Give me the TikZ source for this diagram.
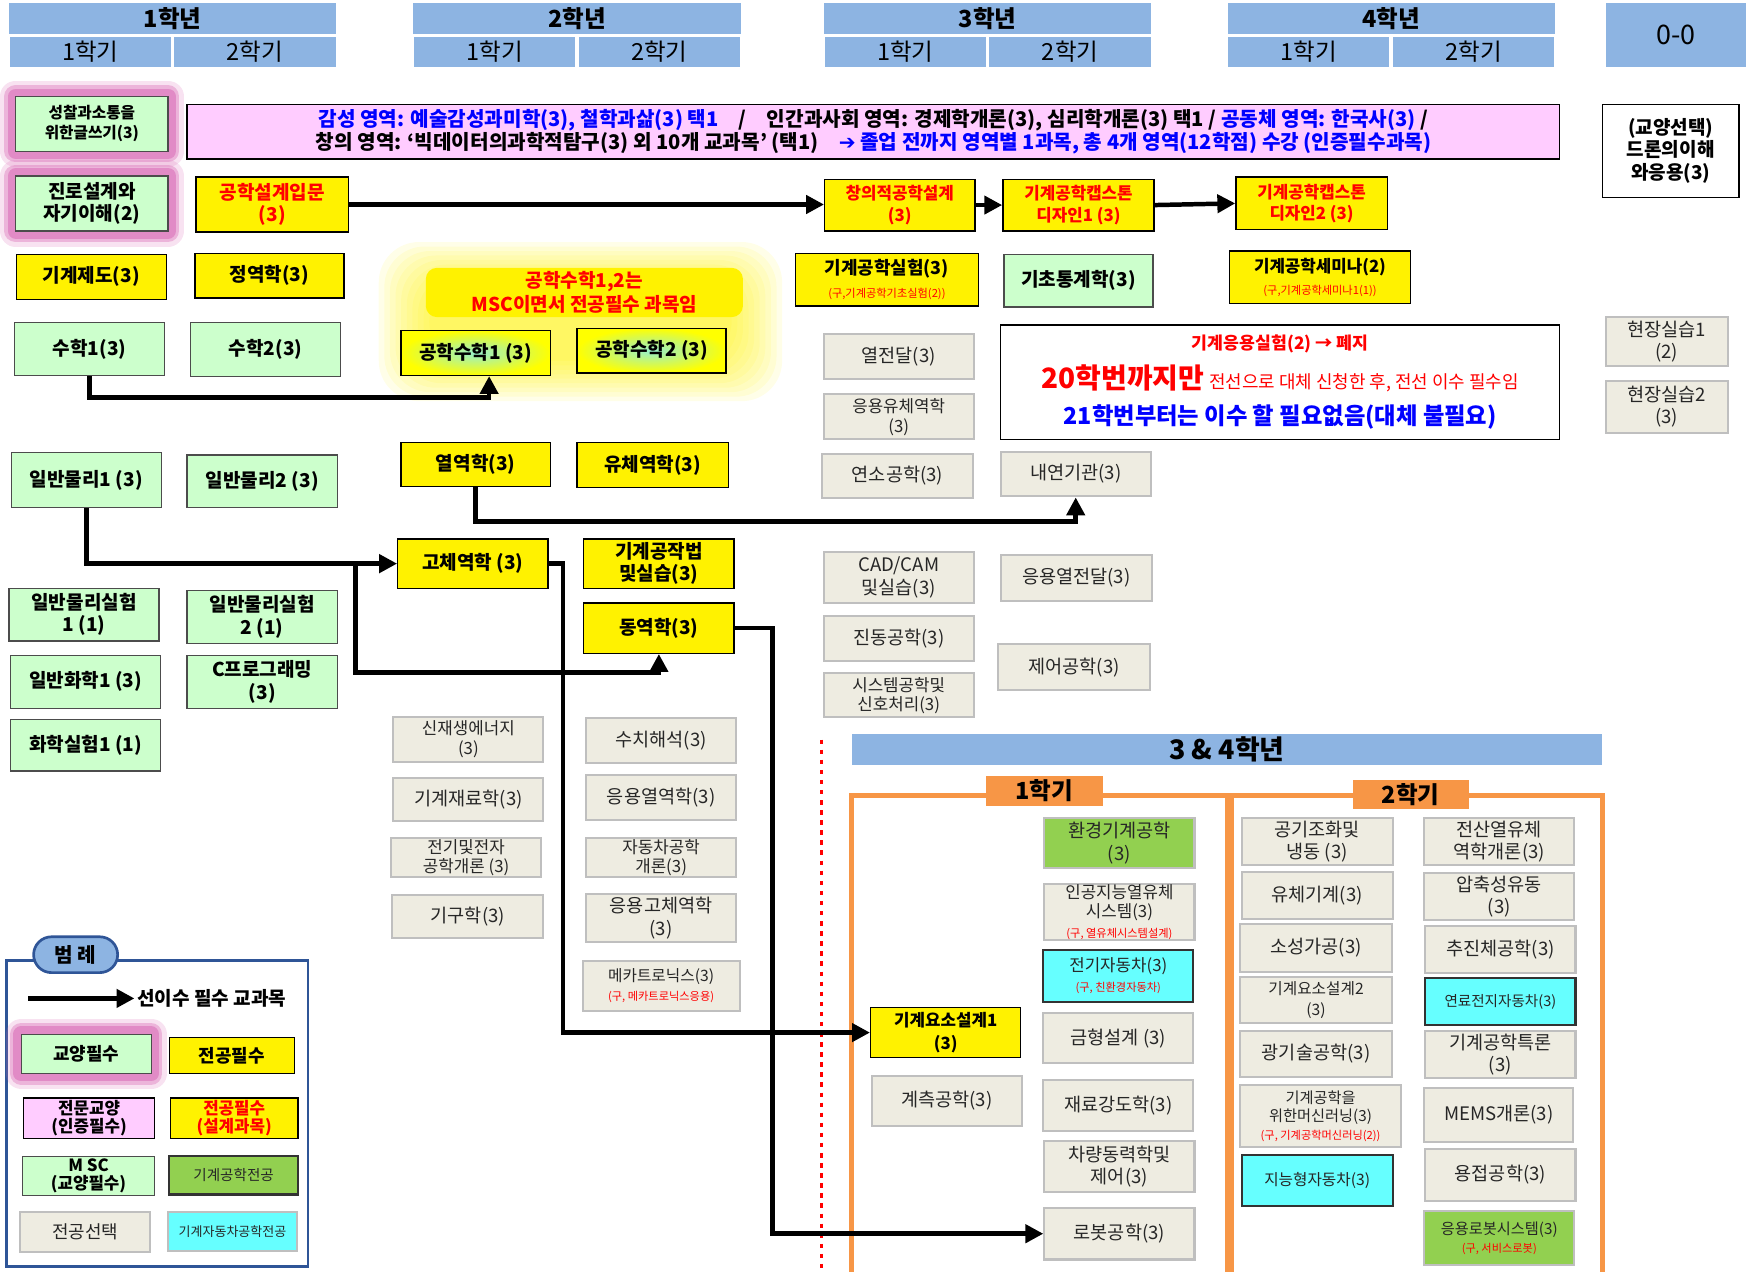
\documentclass[tikz,border=0pt]{standalone}
\usepackage{fontspec}
\setmainfont{Noto Sans CJK KR}
\newfontfamily\symfont{DejaVu Sans}
\usepackage{tikz}
\usetikzlibrary{arrows.meta, positioning, backgrounds, calc}

\definecolor{hdrblue}{RGB}{141,180,226}
\definecolor{legblue}{RGB}{47,85,151}
\definecolor{libgreen}{RGB}{204,255,204}
\definecolor{pinkbox}{RGB}{255,204,255}
\definecolor{beige}{RGB}{238,236,225}
\definecolor{mechgreen}{RGB}{146,208,80}
\definecolor{carcyan}{RGB}{102,255,255}
\definecolor{taborange}{RGB}{247,150,70}
\definecolor{glowpink}{RGB}{218,112,184}
\definecolor{mint}{RGB}{150,240,205}

\newcommand{\oldname}[1]{{\color{red}\mdseries\fontsize{5}{6}\selectfont #1}}
\newcommand{\fsz}[1]{\fontsize{#1}{#1}\selectfont}

\begin{document}
\begin{tikzpicture}[x=0.5pt, y=-0.5pt,
    course/.style={draw, align=center, inner sep=0.5pt, minimum width=67pt, minimum height=22pt,
        line width=0.6pt, font=\bfseries\fontsize{8.5}{10}\selectfont},
    major/.style={course, fill=yellow},
    design/.style={major, text=red},
    msc/.style={major, shade, inner color=mint, outer color=yellow},
    liberal/.style={course, fill=libgreen, draw=black!70},
    glow/.style={preaction={draw=glowpink, line width=14pt, opacity=0.2, line join=round},
        preaction={draw=glowpink, line width=10pt, opacity=0.4, line join=round},
        preaction={draw=glowpink, line width=7pt, opacity=0.6, line join=round}},
    must/.style={liberal, glow},
    elective/.style={course, fill=beige, draw=black!25, line width=0.9pt, text=black!85,
        font=\mdseries\fontsize{8.3}{10}\selectfont},
    mech/.style={elective, fill=mechgreen, draw=black!25},
    carmajor/.style={elective, fill=carcyan, draw=black!80},
    hdr/.style={fill=hdrblue, inner sep=0pt, minimum height=13.5pt, font=\fontsize{10.5}{12}\selectfont},
    tab/.style={fill=taborange, inner sep=0pt, minimum width=52pt, minimum height=13.5pt,
        font=\bfseries\fontsize{10.5}{12}\selectfont},
    frame/.style={draw=taborange, line width=2pt},
    arr/.style={line width=2pt, -{Triangle[length=8pt,width=8pt]}}]

\useasboundingbox (0,0) rectangle (1568,1135);

% header
\foreach \n/\cx in {1/154, 2/515, 3/881.5, 4/1241.5} {
    \node[hdr, minimum width=146pt, font=\bfseries\fontsize{10.5}{12}\selectfont] (year\n) at (\cx,16.5) {\n{}학년};
    \node[hdr, minimum width=72pt] (sem\n a) at (\cx-73.5,46.5) {1학기};
    \node[hdr, minimum width=72pt] (sem\n b) at (\cx+73.5,46.5) {2학기};
}
\node[hdr, minimum width=62.5pt, minimum height=28.5pt, font=\fontsize{12}{14}\selectfont] (zero) at (1495.5,31.5) {0-0};

% glow behind the engineering maths note
\begin{scope}[on background layer]
    \foreach \i in {0,...,9}
        \fill[yellow, opacity=0.09, rounded corners=18pt] (338+5*\i,216+4*\i) rectangle (698-5*\i,358-4*\i);
\end{scope}

% 1st year
\node[must, minimum width=68pt, minimum height=24.5pt, font=\bfseries\fontsize{7}{9}\selectfont] (writing) at (82,110.5) {성찰과소통을\\위한글쓰기(3)};
\node[must, minimum width=68pt, minimum height=24.5pt] (career) at (82,181.5) {진로설계와\\자기이해(2)};
\node[major, minimum height=20pt] (drafting) at (81.5,247) {기계제도(3)};
\node[liberal, minimum height=23.5pt] (math1) at (80,311.5) {수학1(3)};
\node[liberal, minimum height=24.5pt] (phys1) at (77,428.5) {일반물리1 (3)};
\node[liberal, minimum height=23.5pt] (physlab1) at (75,548.5) {일반물리실험\\1 (1)};
\node[liberal, minimum height=23.5pt] (chem1) at (76.5,608.5) {일반화학1 (3)};
\node[liberal, minimum height=23pt] (chemlab1) at (76.5,665) {화학실험1 (1)};

\node[design, minimum width=68pt, minimum height=24.5pt] (intro) at (243,182.5) {공학설계입문\\(3)};
\node[major, minimum width=66.5pt, minimum height=20pt] (statics) at (240.5,246) {정역학(3)};
\node[liberal, minimum height=24pt] (math2) at (237,312) {수학2(3)};
\node[liberal, minimum height=23.5pt] (phys2) at (234,429.5) {일반물리2 (3)};
\node[liberal, minimum height=23.5pt] (physlab2) at (234,550.5) {일반물리실험\\2 (1)};
\node[liberal, minimum height=23.5pt] (cprog) at (234,608.5) {C프로그래밍\\(3)};

% general education areas
\node[course, fill=pinkbox, minimum width=612.5pt, minimum height=24.5pt, font=\bfseries\fontsize{9}{10.5}\selectfont] (areas) at (779.5,117.5)
    {\textcolor{blue}{감성 영역: 예술감성과미학(3), 철학과삶(3) 택1}\quad /\quad 인간과사회 영역: 경제학개론(3), 심리학개론(3) 택1 / \textcolor{blue}{공동체 영역: 한국사(3)} /\\
     창의 영역: ‘빅데이터의과학적탐구(3) 외 10개 교과목’ (택1)\quad \textcolor{blue}{{\symfont\bfseries ➔} 졸업 전까지 영역별 1과목, 총 4개 영역(12학점) 수강 (인증필수과목)}};
\node[course, fill=white, draw=black, minimum width=61pt, minimum height=41.5pt] (drone) at (1491,134.5) {(교양선택)\\드론의이해\\와응용(3)};

% 2nd year
\node[rounded corners=5pt, fill=yellow, text=red, align=center, minimum width=141.5pt, minimum height=22pt, inner sep=0pt,
    font=\bfseries\fontsize{8.5}{10.5}\selectfont] (mscnote) at (521.5,261) {공학수학1,2는\\MSC이면서 전공필수 과목임};
\node[msc, minimum width=66.5pt, minimum height=20pt] (emath1) at (424.5,315) {공학수학1 (3)};
\node[msc, minimum width=66.5pt, minimum height=20pt] (emath2) at (581.5,313) {공학수학2 (3)};
\node[major, minimum width=66.5pt, minimum height=19.5pt] (thermo) at (424.5,414.5) {열역학(3)};
\node[major, minimum width=67.5pt, minimum height=20pt] (fluid) at (582.5,415) {유체역학(3)};
\node[major] (solid) at (422,503) {고체역학 (3)};
\node[major] (machining) at (588,503) {기계공작법\\및실습(3)};
\node[major, minimum height=22.5pt] (dynamics) at (588,560.5) {동역학(3)};
\node[elective, minimum height=20pt, font=\mdseries\fontsize{7.5}{9}\selectfont] (renew) at (418,660) {신재생에너지\\(3)};
\node[elective, minimum height=20pt] (numeric) at (590,661) {수치해석(3)};
\node[elective, minimum height=19.5pt] (materials) at (418,713.5) {기계재료학(3)};
\node[elective, minimum height=20pt] (appthermo) at (590,712) {응용열역학(3)};
\node[elective, minimum height=17.5pt, font=\mdseries\fontsize{7.5}{8.5}\selectfont] (elec) at (416,765.5) {전기및전자\\공학개론 (3)};
\node[elective, minimum height=17.5pt, font=\mdseries\fontsize{7.5}{8.5}\selectfont] (autointro) at (590,765.5) {자동차공학\\개론(3)};
\node[elective, minimum width=67.5pt, minimum height=19pt] (kinem) at (417.5,818) {기구학(3)};
\node[elective, minimum height=21.5pt] (appsolid) at (590,819.5) {응용고체역학\\(3)};
\node[elective, minimum width=70pt, minimum height=22pt, font=\mdseries\fontsize{7}{8.5}\selectfont] (mecha) at (590,880) {메카트로닉스(3)\\\oldname{(구, 메카트로닉스응용)}};

% 3rd year
\node[design, minimum height=23pt, font=\bfseries\fontsize{7.5}{9.5}\selectfont] (creative) at (803,183) {창의적공학설계\\(3)};
\node[major, minimum width=81.5pt, minimum height=23.5pt, font=\bfseries\fontsize{8}{10}\selectfont] (mechlab) at (791.5,249.5) {기계공학실험(3)\\\oldname{(구,기계공학기초실험(2))}};
\node[elective, minimum height=20pt] (heat) at (802,318) {열전달(3)};
\node[elective, minimum height=20pt, font=\mdseries\fontsize{7.5}{9}\selectfont] (appfluid) at (802,372) {응용유체역학\\(3)};
\node[elective, minimum height=19.5pt] (combust) at (801,424.5) {연소공학(3)};
\node[elective, minimum height=22.5pt] (cadcam) at (802,515.5) {CAD/CAM\\및실습(3)};
\node[elective, minimum height=20pt] (vib) at (802,570) {진동공학(3)};
\node[elective, minimum height=19.5pt, font=\mdseries\fontsize{7.5}{8.5}\selectfont] (signal) at (802,620.5) {시스템공학및\\신호처리(3)};

\node[design, minimum width=67.5pt, minimum height=23pt, font=\bfseries\fontsize{7.5}{9.5}\selectfont] (cap1) at (962.5,183) {기계공학캡스톤\\디자인1 (3)};
\node[liberal, minimum width=66.5pt, minimum height=23.5pt] (stat) at (962.5,250.5) {기초통계학(3)};
\node[elective, minimum height=20pt] (ice) at (960,423) {내연기관(3)};
\node[elective, minimum width=67.5pt, minimum height=20.5pt] (appheat) at (960.5,515.5) {응용열전달(3)};
\node[elective, minimum width=67.5pt, minimum height=20.5pt] (control) at (958.5,595.5) {제어공학(3)};

% 4th year
\node[design, minimum width=67.5pt, minimum height=23.5pt, font=\bfseries\fontsize{7.5}{9.5}\selectfont] (cap2) at (1170.5,181.5) {기계공학캡스톤\\디자인2 (3)};
\node[major, minimum width=81pt, minimum height=23.5pt, font=\bfseries\fontsize{7.5}{9.5}\selectfont] (seminar) at (1178,247.5) {기계공학세미나(2)\\\oldname{(구,기계공학세미나1(1))}};
\node[draw, fill=white, line width=0.6pt, align=center, minimum width=249.5pt, minimum height=51pt] (notice) at (1142.5,341)
    {\textcolor{red}{\bfseries\fsz{7.7}기계응용실험(2) → 폐지}\\[4pt]
     \textcolor{red}{{\bfseries\fsz{12.5}20학번까지만}\ \fsz{8}전선으로 대체 신청한 후, 전선 이수 필수임}\\[4pt]
     \textcolor{blue}{\bfseries\fsz{10.4}21학번부터는 이수 할 필요없음(대체 불필요)}};
\node[elective, minimum width=54.5pt, minimum height=22pt] (field1) at (1487.5,305) {현장실습1\\(2)};
\node[elective, minimum width=54.5pt, minimum height=23pt] (field2) at (1487.5,363) {현장실습2\\(3)};

% 3 & 4th year electives
\node[hdr, minimum width=335pt, minimum height=14pt, font=\bfseries\fontsize{12}{14}\selectfont] (upper) at (1095,669) {3 \& 4학년};
\draw[red, line width=1.5pt, dash pattern=on 2pt off 2.5pt] (733,660) -- (733,1135);
\draw[frame] (760,1135) |- (1095,710) -- (1095,1135);
\draw[frame] (1099,1135) |- (1430,710) -- (1430,1135);
\node[tab] (tab1) at (932,706) {1학기};
\node[tab, minimum height=13pt] (tab2) at (1259,709) {2학기};

\node[mech, minimum height=22.5pt] (envmech) at (999,752.5) {환경기계공학\\(3)};
\node[elective, minimum height=24pt, font=\mdseries\fontsize{7.5}{8.5}\selectfont] (aifluid) at (999,814) {인공지능열유체\\시스템(3)\\\oldname{(구, 열유체시스템설계)}};
\node[carmajor, minimum height=23pt, font=\mdseries\fontsize{7.5}{9}\selectfont] (ev) at (998,871) {전기자동차(3)\\\oldname{(구, 친환경자동차)}};
\node[major, minimum height=22.5pt, draw=black, font=\bfseries\fontsize{7.5}{10}\selectfont] (elem1) at (844,921.5) {기계요소설계1\\(3)};
\node[elective, minimum height=22.5pt] (mold) at (998,926.5) {금형설계 (3)};
\node[elective, minimum height=22.5pt] (measure) at (845,982.5) {계측공학(3)};
\node[elective, minimum height=22.5pt] (strength) at (998,986.5) {재료강도학(3)};
\node[elective, minimum height=23pt] (vehicle) at (999,1041) {차량동력학및\\제어(3)};
\node[elective, minimum height=23pt] (robot) at (999,1101) {로봇공학(3)};

\node[elective, minimum width=67.5pt, minimum height=21pt] (hvac) at (1175.5,751) {공기조화및\\냉동 (3)};
\node[elective, minimum height=21pt] (cfd) at (1338,751) {전산열유체\\역학개론(3)};
\node[elective, minimum width=67.5pt, minimum height=21pt] (turbo) at (1175.5,799) {유체기계(3)};
\node[elective, minimum height=21pt] (compress) at (1338,800) {압축성유동\\(3)};
\node[elective, minimum width=67.5pt, minimum height=21pt] (forming) at (1174.5,846) {소성가공(3)};
\node[elective, minimum height=21pt] (propul) at (1339,847) {추진체공학(3)};
\node[elective, minimum width=67.5pt, minimum height=20.5pt, font=\mdseries\fontsize{7}{9}\selectfont] (elem2) at (1174.5,892.5) {기계요소설계2\\(3)};
\node[carmajor, minimum height=21pt, font=\mdseries\fontsize{6.5}{8}\selectfont] (fuelcell) at (1339,894) {연료전지자동차(3)};
\node[elective, minimum width=67.5pt, minimum height=20.5pt] (optics) at (1174.5,940.5) {광기술공학(3)};
\node[elective, minimum height=21pt] (special) at (1339,941) {기계공학특론\\(3)};
\node[elective, minimum width=71.5pt, minimum height=28pt, font=\mdseries\fontsize{6.8}{8}\selectfont] (ml) at (1178.5,996) {기계공학을\\위한머신러닝(3)\\\oldname{(구, 기계공학머신러닝(2))}};
\node[elective, minimum width=66.5pt, minimum height=24pt] (mems) at (1337.5,995) {MEMS개론(3)};
\node[carmajor, minimum width=67.5pt, minimum height=22.5pt, font=\mdseries\fontsize{7}{8}\selectfont] (smartcar) at (1175.5,1053.5) {지능형자동차(3)};
\node[elective, minimum height=23.5pt] (welding) at (1339,1048.5) {용접공학(3)};
\node[mech, minimum height=24pt, font=\mdseries\fontsize{6.8}{8}\selectfont] (approbot) at (1338,1105) {응용로봇시스템(3)\\\oldname{(구, 서비스로봇)}};

% prerequisites
\draw[arr] (intro.east) -- (intro.east -| creative.west);
\draw[arr] (creative.east) -- (creative.east -| cap1.west);
\draw[arr] (cap1.east) -- (cap2.west);
\draw[arr] (math1.south) -- ++(0,19) -| ([xshift=6pt]emath1.south);
\draw[arr] (thermo.south) -- ++(0,31) -| (ice.south);
\draw[arr] (phys1.south) |- (solid.west);
\path (solid.west) ++(-37,0) coordinate (split);
\draw[arr] (split) -- ++(0,97) -| (dynamics.south);
\draw[arr] (solid.east) -- ++(13,0) |- (elem1.west);
\draw[arr] (dynamics.east) -- ++(34,0) |- (robot.west);

% legend
\draw[legblue, line width=1.2pt] (6,857) rectangle (275,1130);
\node[draw=legblue, fill=hdrblue, line width=1.2pt, rounded corners=8pt, minimum width=37.5pt, minimum height=16pt,
    inner sep=0pt, font=\bfseries\fontsize{9}{10}\selectfont] (legtitle) at (67.5,852) {범 례};
\coordinate (legfrom) at (25,891);
\coordinate (legto) at (120,891);
\draw[arr] (legfrom) -- (legto);
\node[right=0pt of legto, inner sep=1pt, font=\bfseries\fontsize{8.5}{10}\selectfont] (legarrow) {선이수 필수 교과목};
\node[must, minimum width=58pt, minimum height=17.5pt, font=\bfseries\fontsize{8}{9}\selectfont] (leg1) at (77,940.5) {교양필수};
\node[major, minimum width=56pt, minimum height=16pt, font=\bfseries\fontsize{8}{9}\selectfont] (leg2) at (207,942) {전공필수};
\node[course, fill=pinkbox, draw=black, minimum width=58.5pt, minimum height=18pt, font=\bfseries\fontsize{7.5}{8}\selectfont] (leg3) at (79.5,998) {전문교양\\(인증필수)};
\node[design, minimum width=57pt, minimum height=18pt, font=\bfseries\fontsize{7.5}{8}\selectfont] (leg4) at (209,998) {전공필수\\(설계과목)};
\node[liberal, minimum width=59pt, minimum height=17.5pt, font=\bfseries\fontsize{7.5}{8}\selectfont] (leg5) at (79,1049.5) {M SC\\(교양필수)};
\node[mech, draw=black!80, minimum width=57.5pt, minimum height=17pt, font=\mdseries\fontsize{6.5}{8}\selectfont] (leg6) at (208.5,1049) {기계공학전공};
\node[elective, minimum width=58pt, minimum height=17.5pt, font=\mdseries\fontsize{8}{9}\selectfont] (leg7) at (76,1099.5) {전공선택};
\node[carmajor, draw=black!25, minimum width=57.5pt, minimum height=17pt, font=\mdseries\fontsize{5.8}{7}\selectfont] (leg8) at (207.5,1099) {기계자동차공학전공};
\end{tikzpicture}
\end{document}
